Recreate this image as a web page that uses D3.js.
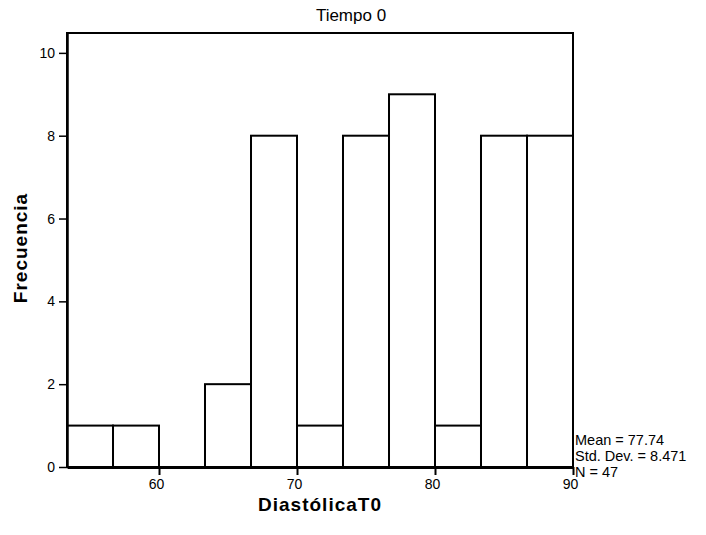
<!DOCTYPE html>
<meta charset="utf-8">
<style>
body { margin: 0; background: #fff; }
text { font-family: "Liberation Sans", Arial, sans-serif; fill: #000; }
.bar { fill: #fff; stroke: #000; stroke-width: 2; }
.lbl { font-weight: bold; font-size: 19px; letter-spacing: 1px; }
.tick text { font-size: 14px; }
</style>
<svg id="chart" width="706" height="535"></svg>
<script src="https://d3js.org/d3.v7.min.js"></script>
<script>

// histogram of DiastólicaT0 (bin width 10/3)
var binEdges = [53.333, 56.667, 60, 63.333, 66.667, 70, 73.333, 76.667, 80, 83.333, 86.667, 90];
var counts = [1, 1, 0, 2, 8, 1, 8, 9, 1, 8, 8];
var xTicks = [60, 70, 80, 90];
var yTicks = [0, 2, 4, 6, 8, 10];
var stats = ["Mean = 77.74", "Std. Dev. = 8.471", "N = 47"];

var svg = d3.select("svg"),
    margin = {top: 33, right: 133, bottom: 68, left: 67},
    width = +svg.attr("width") - margin.left - margin.right,
    height = +svg.attr("height") - margin.top - margin.bottom;

var x = d3.scaleLinear().domain([binEdges[0], binEdges[binEdges.length - 1]]).range([0, width]),
    y = d3.scaleLinear().domain([0, 10.48]).range([height, 0]);

var g = svg.append("g")
    .attr("transform", "translate(" + margin.left + "," + margin.top + ")");

var bins = counts.map(function(c, i) { return {x0: binEdges[i], x1: binEdges[i + 1], n: c}; });

g.selectAll(".bar")
  .data(bins.filter(function(d) { return d.n > 0; }))
  .enter().append("rect")
    .attr("class", "bar")
    .attr("x", function(d) { return x(d.x0); })
    .attr("y", function(d) { return y(d.n); })
    .attr("width", function(d) { return x(d.x1) - x(d.x0); })
    .attr("height", function(d) { return y(0) - y(d.n); });

// frame
g.append("path")
    .attr("d", "M0," + height + "V0H" + width + "V" + height)
    .attr("fill", "none")
    .attr("stroke", "#000")
    .attr("stroke-width", 2);

var xAxis = g.append("g")
    .attr("transform", "translate(0," + height + ")")
    .call(d3.axisBottom(x).tickValues(xTicks).tickSize(8).tickPadding(4).tickSizeOuter(0));
xAxis.select(".domain").attr("stroke-width", 3);
xAxis.selectAll(".tick line").attr("stroke-width", 2);
xAxis.selectAll(".tick text").attr("dx", "-3");

var yAxis = g.append("g")
    .call(d3.axisLeft(y).tickValues(yTicks).tickSize(8).tickPadding(4).tickSizeOuter(0));
yAxis.select(".domain").attr("stroke-width", 2.5);
yAxis.selectAll(".tick line").attr("stroke-width", 1.5);

svg.append("text")
    .attr("x", 351)
    .attr("y", 21)
    .attr("text-anchor", "middle")
    .style("font-size", "17px")
    .text("Tiempo 0");

svg.append("text")
    .attr("class", "lbl")
    .attr("x", 320)
    .attr("y", 511)
    .attr("text-anchor", "middle")
    .text("DiastólicaT0");

svg.append("text")
    .attr("class", "lbl")
    .attr("transform", "translate(27,248) rotate(-90)")
    .attr("text-anchor", "middle")
    .text("Frecuencia");

svg.selectAll(".stat")
  .data(stats)
  .enter().append("text")
    .attr("class", "stat")
    .attr("x", margin.left + width + 2)
    .attr("y", function(d, i) { return 445 + i * 16; })
    .style("font-size", "14.5px")
    .text(function(d) { return d; });

</script>
